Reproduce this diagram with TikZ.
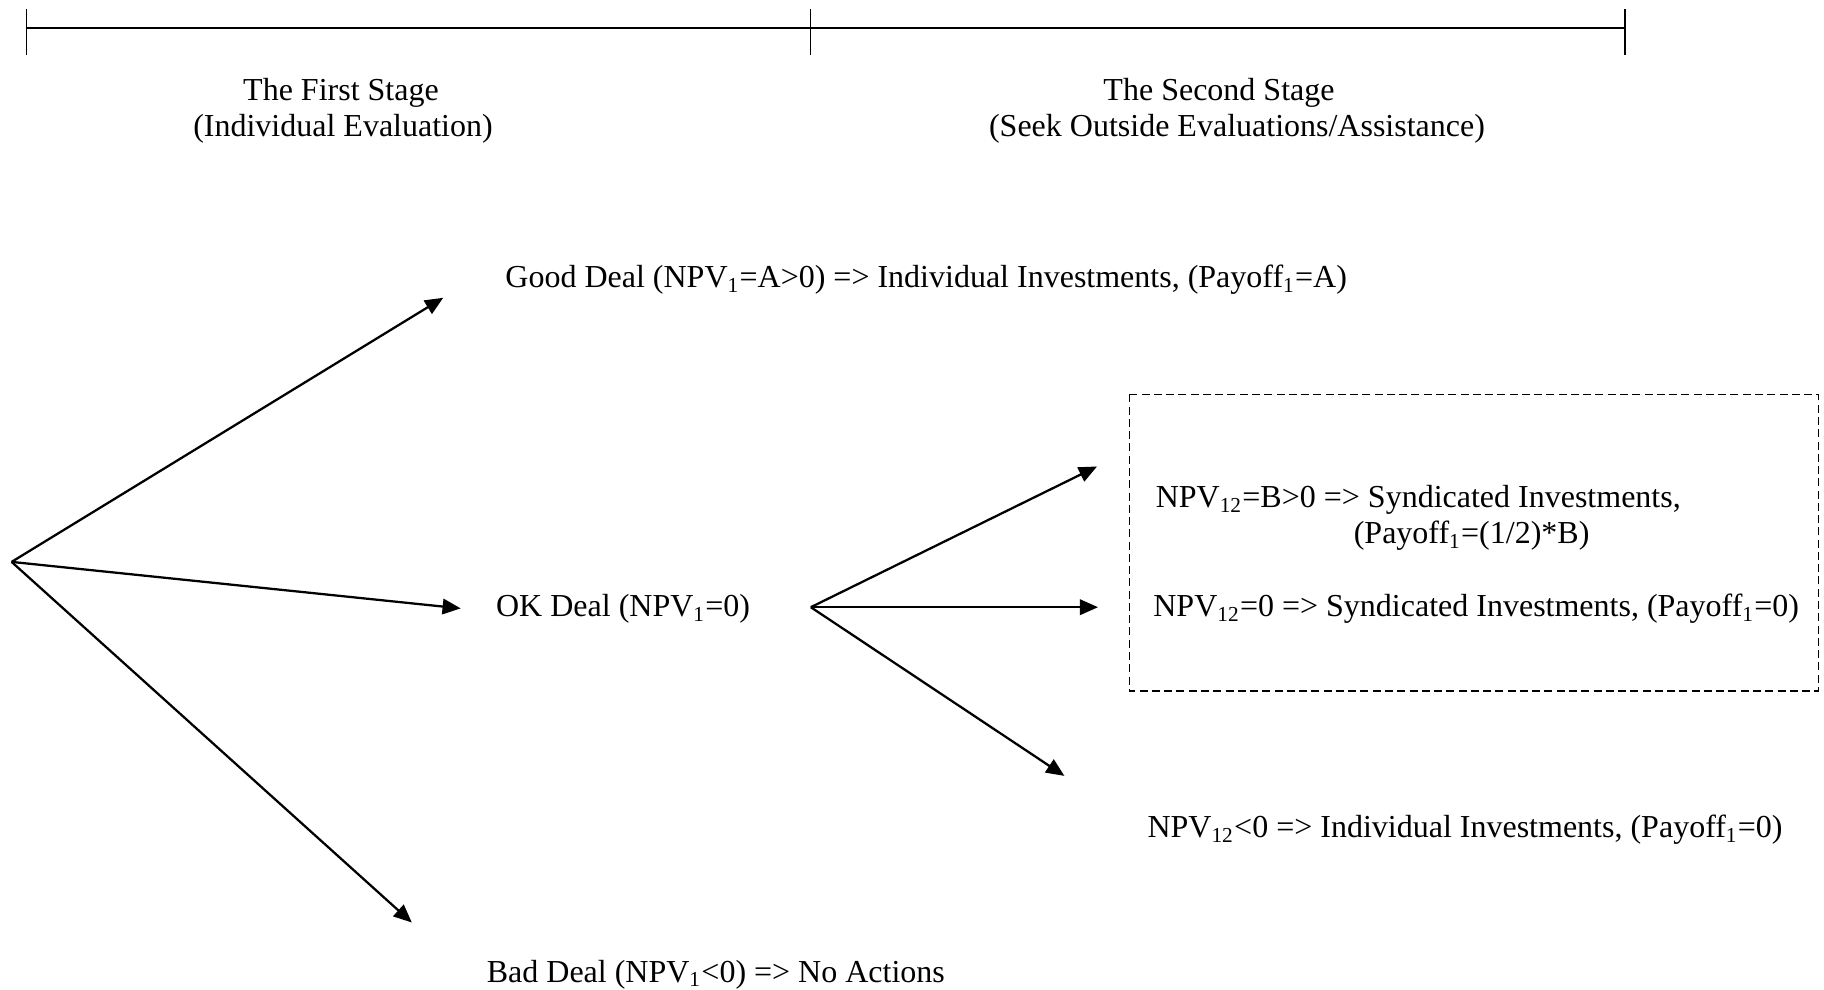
\documentclass[tikz,border=0pt]{standalone}
\usepackage{fontspec}
\setmainfont{Liberation Serif}
\usetikzlibrary{arrows.meta}
\begin{document}
\begin{tikzpicture}[x=0.375pt,y=-0.375pt,
  lbl/.style={inner sep=0pt,anchor=base west,font=\fontsize{12pt}{14pt}\selectfont},
  clbl/.style={inner sep=0pt,anchor=base,font=\fontsize{12pt}{14pt}\selectfont},
  branch/.style={line width=0.85pt,-{Triangle[length=6.8pt,width=5.8pt]}},
  tl/.style={line width=1pt},
  tick/.style={line width=0.5pt},
  dbox/.style={draw,line width=0.5pt,dash pattern=on 3pt off 1.6pt}]
\useasboundingbox (0,0) rectangle (1824,990);
% timeline
\coordinate (t0) at (26.8,27.9);
\coordinate (t1) at (810.8,27.9);
\coordinate (t2) at (1625,27.9);
\draw[tl] (t0) -- (t2);
\foreach \t in {t0,t1,t2}{\draw[tick] ([yshift=18.6*0.375pt]\t) -- ([yshift=-26.8*0.375pt]\t);}
\node[clbl] (s1a) at (341,100.2) {The First Stage};
\node[clbl] (s1b) at (343,136.2) {(Individual Evaluation)};
\node[clbl] (s2a) at (1219,100.2) {The Second Stage};
\node[clbl] (s2b) at (1237,136.2) {(Seek Outside Evaluations/Assistance)};
% first stage tree
\coordinate (root) at (11.6,561.9);
\coordinate (eg) at (443.2,297.8);
\coordinate (eo) at (460.7,608.4);
\coordinate (eb) at (411.8,922.5);
\draw[branch] (root) -- (eg);
\draw[branch] (root) -- (eo);
\draw[branch] (root) -- (eb);
\node[lbl] (good) at (504.9,287.6) {Good Deal (NPV\textsubscript{1}=A>0) => Individual Investments, (Payoff\textsubscript{1}=A)};
\node[lbl] (ok) at (495.6,616.6) {OK Deal (NPV\textsubscript{1}=0)};
\node[lbl] (bad) at (486.3,982) {Bad Deal (NPV\textsubscript{1}<0) => No Actions};
% second stage tree
\coordinate (br) at (810.8,607.2);
\coordinate (e1) at (1097,466.5);
\coordinate (e2) at (1098,607.2);
\coordinate (e3) at (1064.4,775.9);
\draw[branch] (br) -- (e1);
\draw[branch] (br) -- (e2);
\draw[branch] (br) -- (e3);
\draw[dbox] (1129.6,394.4) rectangle (1818.2,691);
\node[lbl] (r1) at (1155.2,507.3) {NPV\textsubscript{12}=B>0 => Syndicated Investments,};
\node[clbl] (r1b) at (1471.6,543.4) {(Payoff\textsubscript{1}=(1/2)*B)};
\node[lbl] (r2) at (1152.8,616.6) {NPV\textsubscript{12}=0 => Syndicated Investments, (Payoff\textsubscript{1}=0)};
\node[lbl] (r3) at (1147,837.7) {NPV\textsubscript{12}<0 => Individual Investments, (Payoff\textsubscript{1}=0)};
\end{tikzpicture}
\end{document}
